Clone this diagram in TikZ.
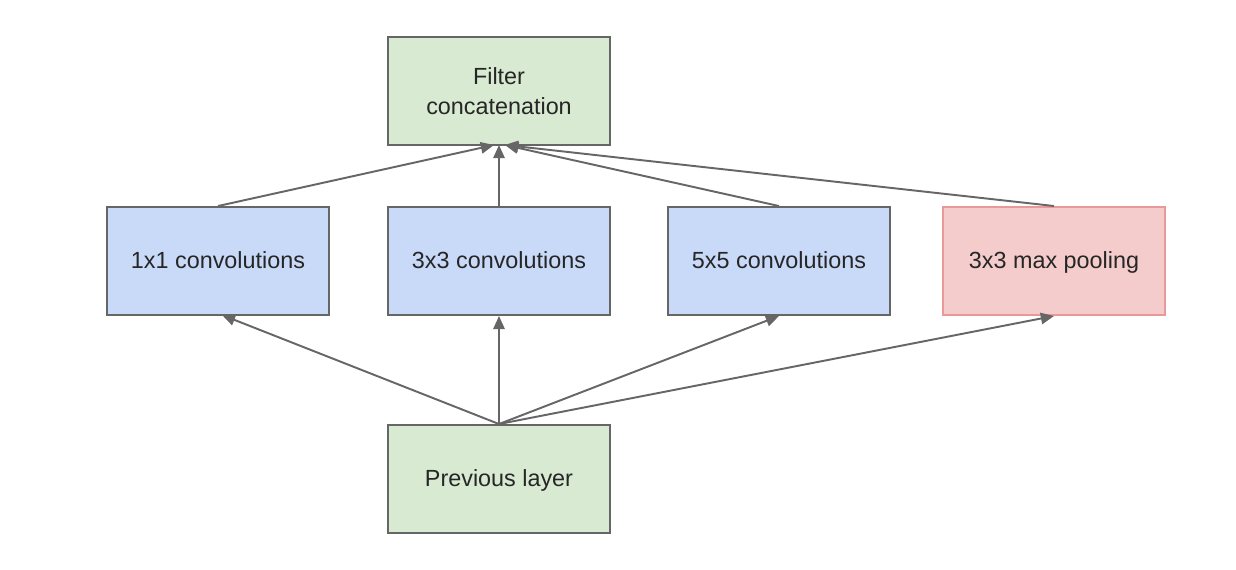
\documentclass[tikz,border=0pt]{standalone}
\usepackage{fontspec}
\setmainfont{Liberation Sans}
\usetikzlibrary{arrows.meta}
\definecolor{gfill}{HTML}{D9EAD3}
\definecolor{bfill}{HTML}{C9DAF8}
\definecolor{rfill}{HTML}{F4CCCC}
\definecolor{rline}{HTML}{EA9999}
\definecolor{gline}{HTML}{666666}
\tikzset{
  box/.style={draw=gline, line width=1.1pt, minimum width=222*0.02cm, minimum height=108*0.02cm, inner sep=0pt, align=center, font=\fontsize{13.3pt}{17pt}\selectfont, text=black!85},
  oneline/.style={text height=0.85em, text depth=0em},
  green/.style={box, fill=gfill},
  blue/.style={box, oneline, fill=bfill},
  red/.style={box, oneline, fill=rfill, draw=rline},
  arr/.style={draw=gline, line width=1.1pt, -{Triangle[length=7.5pt,width=6.5pt]}}
}
\begin{document}
\begin{tikzpicture}[x=0.02cm,y=-0.02cm]
\useasboundingbox (0,0) rectangle (1236,570);
\node[green] (fc) at (499,91) {Filter\\concatenation};
\node[blue] (c1) at (218,261) {1x1 convolutions};
\node[blue] (c3) at (499,261) {3x3 convolutions};
\node[blue] (c5) at (779,261) {5x5 convolutions};
\node[red] (mp) at (1054,261) {3x3 max pooling};
\node[green, oneline] (pl) at (499,479) {Previous layer};
\coordinate (fa) at (494,145);
\coordinate (fb) at (499,145);
\coordinate (fcc) at (505,145);
\coordinate (c1b) at (222,315);
\draw[arr] (c1.north) -- (fa);
\draw[arr] (c3.north) -- (fb);
\draw[arr] (c5.north) -- (fcc);
\draw[arr] (mp.north) -- (fcc);
\draw[arr] (pl.north) -- (c1b);
\draw[arr] (pl.north) -- (c3.south);
\draw[arr] (pl.north) -- (c5.south);
\draw[arr] (pl.north) -- (mp.south);
\end{tikzpicture}
\end{document}
